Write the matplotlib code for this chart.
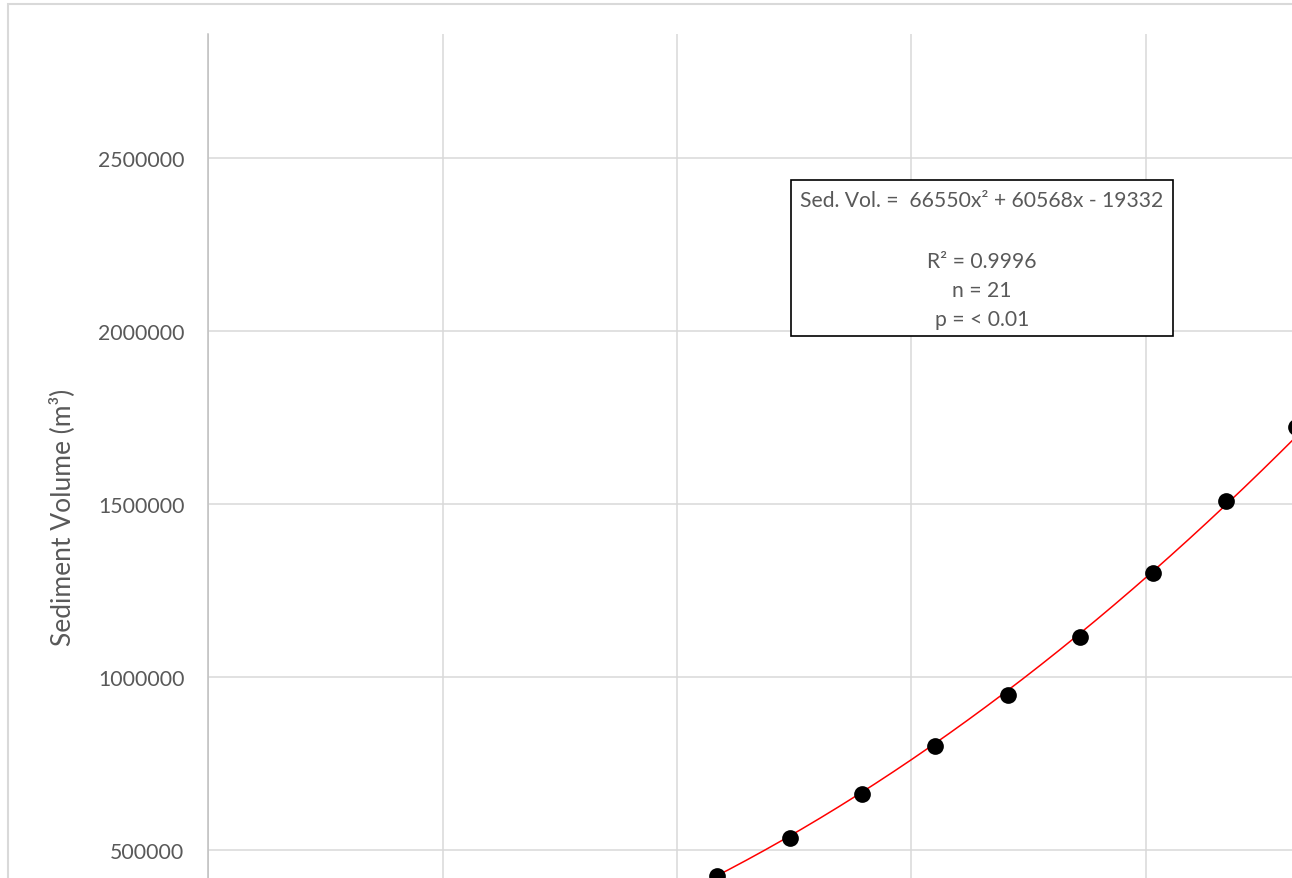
import numpy as np
import matplotlib.pyplot as plt
from matplotlib.patches import Rectangle
from matplotlib.ticker import FuncFormatter

plt.rcParams['font.family'] = ['Lato', 'DejaVu Sans']

# points (only the visible part of the series)
x_vals = [2.17, 2.48, 2.79, 3.10, 3.41, 3.72, 4.03, 4.34, 4.64]
y_vals = [424900, 534700, 661900, 800600, 948000, 1115600, 1300600, 1508700, 1722500]

# trendline coefficients shown in the box
a, b, c = 66550, 60568, -19332

y_ticks = [500000, 1000000, 1500000, 2000000, 2500000]
x_ticks = [0, 1, 2, 3, 4]

W, H = 1292, 879
fig = plt.figure(figsize=(W / 100, H / 100), dpi=100)
ax = fig.add_axes([208 / W, 0, 1 - 208 / W, (H - 35) / H])

xs = np.linspace(0, 4.7, 300)
ax.plot(xs, a * xs ** 2 + b * xs + c, color='red', lw=1.1, zorder=2)
ax.scatter(x_vals, y_vals, s=145, color='black', zorder=3, linewidths=0)

ax.set_xlim(0, (W - 208) / 234.5)
ax.set_ylim(419075, 2858382)
ax.set_yticks(y_ticks)
ax.yaxis.set_major_formatter(FuncFormatter(lambda v, p: f'{int(v)}'))
ax.set_xticks(x_ticks)
ax.grid(True, color='#d9d9d9', lw=1.1)
ax.set_axisbelow(True)
ax.tick_params(axis='y', length=0, pad=17, labelsize=15.3, labelcolor='#595959')
ax.tick_params(axis='x', length=0, labelbottom=False)
for s in ['top', 'right', 'bottom']:
    ax.spines[s].set_visible(False)
ax.spines['left'].set_color('#bfbfbf')
ax.spines['left'].set_linewidth(1.1)

# chart outline
fig.patches.append(Rectangle((8 / W, -0.1), 1.2, (H - 5) / H + 0.1, transform=fig.transFigure,
                             fill=False, edgecolor='#d9d9d9', lw=1.5))

fig.text(62 / W, 1 - 517 / H, 'Sediment Volume (m³)', rotation=90, ha='center', va='center',
         fontsize=19, color='#595959')

# equation box
fig.patches.append(Rectangle((791 / W, 1 - 337 / H), (1173 - 791) / W, (337 - 181) / H,
                             transform=fig.transFigure, facecolor='white', edgecolor='black',
                             lw=1.2, zorder=5))
box_lines = ['Sed. Vol. =  66550x² + 60568x - 19332', 'R² = 0.9996', 'n = 21', 'p = < 0.01']
box_y = [201, 262, 291, 320]
for t, yy in zip(box_lines, box_y):
    fig.text(982 / W, 1 - yy / H, t, ha='center', va='center', fontsize=15.2,
             color='#595959', zorder=6)

fig.savefig('out.png', dpi=100)
